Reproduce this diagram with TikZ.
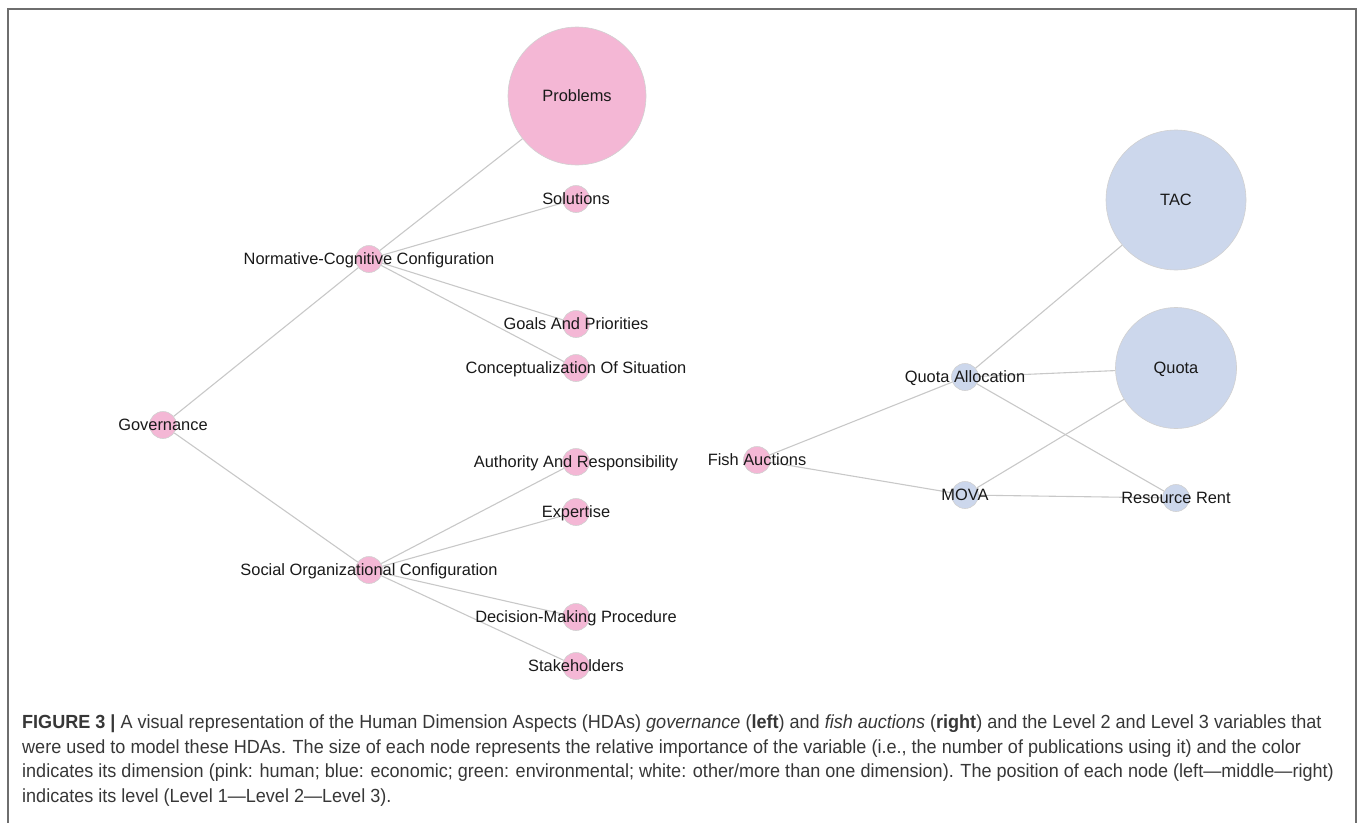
\documentclass[tikz,border=0pt]{standalone}
\usepackage{fontspec}
\setmainfont{Liberation Sans}
\newfontfamily\capfont[FakeStretch=0.95]{Liberation Sans}
\usetikzlibrary{backgrounds}
\definecolor{pinkn}{RGB}{244,183,213}
\definecolor{bluen}{RGB}{204,215,236}
\definecolor{edgec}{RGB}{200,200,200}
\definecolor{framec}{RGB}{110,110,110}
\definecolor{capc}{RGB}{55,55,55}
\tikzset{
  hnode/.style={circle, fill=pinkn, draw=black!18, line width=0.6pt, inner sep=0pt, minimum size=27pt},
  enode/.style={circle, fill=bluen, draw=black!18, line width=0.6pt, inner sep=0pt, minimum size=27pt},
  lbl/.style={font=\fontsize{16.4}{18}\selectfont, text=black!90, inner sep=0pt, text height=11.7pt, text depth=0pt},
  link/.style={draw=edgec, line width=1.1pt},
  capline/.style={anchor=base west, inner sep=0pt, font=\capfont\fontsize{19}{22}\selectfont, text=capc}
}
\begin{document}
\begin{tikzpicture}[x=1pt,y=-1pt]
\useasboundingbox (0,0) rectangle (1360,822);
\draw[framec, line width=2pt] (8,830) -- (8,9) -- (1356,9) -- (1356,830);

% left tree
\node[hnode] (gov) at (163,425) [label={[lbl]center:Governance}] {};
\node[hnode] (ncc) at (369,259) [label={[lbl]center:Normative-Cognitive Configuration}] {};
\node[hnode] (soc) at (369,570) [label={[lbl]center:Social Organizational Configuration}] {};
\node[hnode, minimum size=138pt] (prob) at (577,96) [label={[lbl]center:Problems}] {};
\node[hnode] (sol) at (576,199) [label={[lbl]center:Solutions}] {};
\node[hnode] (goal) at (576,324) [label={[lbl]center:Goals And Priorities}] {};
\node[hnode] (conc) at (576,368) [label={[lbl]center:Conceptualization Of Situation}] {};
\node[hnode] (auth) at (576,462) [label={[lbl]center:Authority And Responsibility}] {};
\node[hnode] (exp) at (576,512) [label={[lbl]center:Expertise}] {};
\node[hnode] (dec) at (576,617) [label={[lbl]center:Decision-Making Procedure}] {};
\node[hnode] (stake) at (576,666) [label={[lbl]center:Stakeholders}] {};

% right tree
\node[hnode] (fish) at (757,460) [label={[lbl]center:Fish Auctions}] {};
\node[enode] (qa) at (965,377) [label={[lbl]center:Quota Allocation}] {};
\node[enode] (mova) at (965,495) [label={[lbl]center:MOVA}] {};
\node[enode, minimum size=140pt] (tac) at (1176,200) [label={[lbl]center:TAC}] {};
\node[enode, minimum size=121pt] (quota) at (1176,368) [label={[lbl]center:Quota}] {};
\node[enode] (rent) at (1176,498) [label={[lbl]center:Resource Rent}] {};

\begin{scope}[on background layer]
\draw[link] (gov) -- (ncc);
\draw[link] (gov) -- (soc);
\draw[link] (ncc) -- (prob);
\draw[link] (ncc) -- (sol);
\draw[link] (ncc) -- (goal);
\draw[link] (ncc) -- (conc);
\draw[link] (soc) -- (auth);
\draw[link] (soc) -- (exp);
\draw[link] (soc) -- (dec);
\draw[link] (soc) -- (stake);
\draw[link] (fish) -- (qa);
\draw[link] (fish) -- (mova);
\draw[link] (qa) -- (tac);
\draw[link] (qa) -- (quota);
\draw[link] (qa) -- (rent);
\draw[link] (mova) -- (quota);
\draw[link] (mova) -- (rent);
\end{scope}

% caption
\node[capline] (cap1) at (22,728) {{\bfseries FIGURE 3 |} A visual representation of the Human Dimension Aspects (HDAs) \textit{governance} (\textbf{left}) and \textit{fish auctions} (\textbf{right}) and the Level 2 and Level 3 variables that};
\node[capline] (cap2) at (22,753) {were used to model these HDAs. The size of each node represents the relative importance of the variable (i.e., the number of publications using it) and the color};
\node[capline] (cap3) at (22,777) {indicates its dimension (pink: human; blue: economic; green: environmental; white: other/more than one dimension). The position of each node (left—middle—right)};
\node[capline] (cap4) at (22,802) {indicates its level (Level 1—Level 2—Level 3).};
\end{tikzpicture}
\end{document}
